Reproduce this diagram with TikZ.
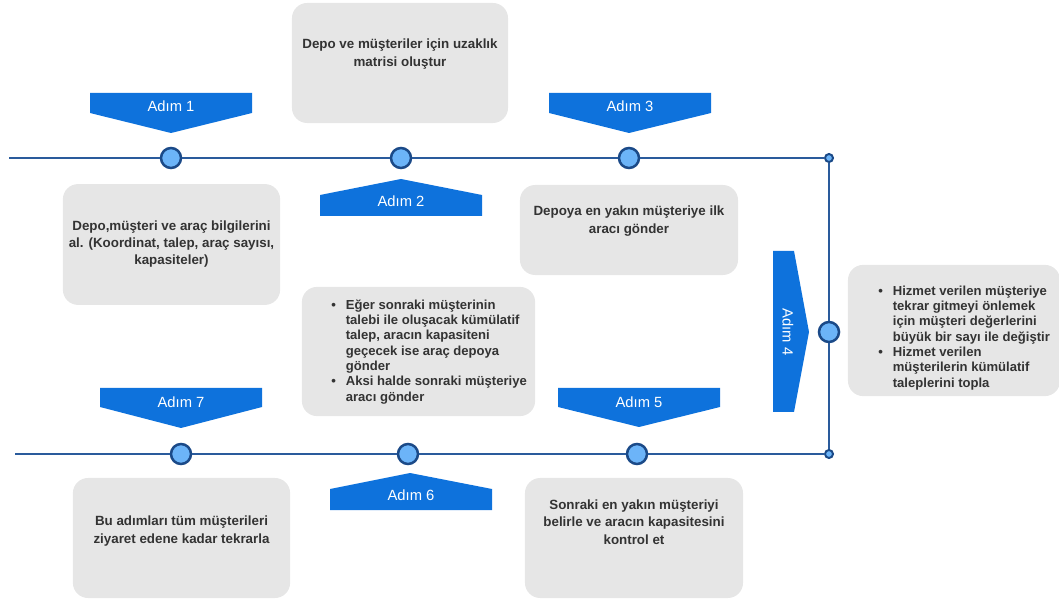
\documentclass[tikz,border=0pt]{standalone}
\usepackage{fontspec}
\setmainfont{Liberation Sans}
\usetikzlibrary{positioning}

\definecolor{stepblue}{HTML}{0E72DC}
\definecolor{linenavy}{HTML}{2A5B9C}
\definecolor{dotfill}{HTML}{6CB4F8}
\definecolor{dotedge}{HTML}{1B4A88}
\definecolor{boxgray}{HTML}{E6E6E6}
\definecolor{txtgray}{HTML}{333333}

\begin{document}
\begin{tikzpicture}[
          x=0.025cm, y=-0.025cm,
          box/.style={rectangle, rounded corners=0.38cm, fill=boxgray, inner sep=0pt},
          boxtext/.style={text=txtgray, align=center, inner sep=0pt,
            font=\fontsize{9.5}{12.3}\selectfont\bfseries},
          listtext/.style={text=txtgray, inner sep=0pt, anchor=west,
            font=\fontsize{9.3}{10.9}\selectfont\bfseries},
          dot/.style={circle, draw=dotedge, fill=dotfill, line width=1.8pt, minimum size=0.5cm, inner sep=0pt},
          enddot/.style={circle, draw=dotedge, fill=dotfill, line width=1.4pt, minimum size=0.2cm, inner sep=0pt},
          timeline/.style={draw=linenavy, line width=1.4pt},
          banner/.style={fill=stepblue},
          steplabel/.style={text=white, font=\fontsize{10.5}{12}\selectfont}
        ]
          \useasboundingbox (0,0) rectangle (1059,602);

          % text boxes
          \node[box, minimum width=5.4cm, minimum height=3cm] (b2) at (400,63) {};
          \node[boxtext] (t2) at (400,54) {Depo ve müşteriler için uzaklık\\matrisi oluştur};
          \node[box, minimum width=5.43cm, minimum height=3.02cm] (b1) at (171.5,244.5) {};
          \node[boxtext] (t1) at (171.5,244)
            {Depo,müşteri ve araç bilgilerini\\al. (Koordinat, talep, araç sayısı,\\kapasiteler)};
          \node[box, minimum width=5.45cm, minimum height=2.25cm] (b3) at (629,230) {};
          \node[boxtext] (t3) at (629,221) {Depoya en yakın müşteriye ilk\\aracı gönder};
          \node[box, minimum width=5.3cm, minimum height=3.28cm] (b4) at (954,330.5) {};
          \node[listtext] (t4) at (878,338)
            {\begin{tabular}{@{}l@{\hspace{0.25cm}}l@{}}
              \textbullet & Hizmet verilen müşteriye\\
                          & tekrar gitmeyi önlemek\\
                          & için müşteri değerlerini\\
                          & büyük bir sayı ile değiştir\\
              \textbullet & Hizmet verilen\\
                          & müşterilerin kümülatif\\
                          & taleplerini topla
            \end{tabular}};
          \node[box, minimum width=5.83cm, minimum height=3.23cm] (b6) at (418.5,351.5) {};
          \node[listtext] (t6) at (331,352)
            {\begin{tabular}{@{}l@{\hspace{0.25cm}}l@{}}
              \textbullet & Eğer sonraki müşterinin\\
                          & talebi ile oluşacak kümülatif\\
                          & talep, aracın kapasiteni\\
                          & geçecek ise araç depoya\\
                          & gönder\\
              \textbullet & Aksi halde sonraki müşteriye\\
                          & aracı gönder
            \end{tabular}};
          \node[box, minimum width=5.43cm, minimum height=3cm] (b7) at (181.5,538) {};
          \node[boxtext] (t7) at (181.5,531) {Bu adımları tüm müşterileri\\ziyaret edene kadar tekrarla};
          \node[box, minimum width=5.45cm, minimum height=3cm] (b5) at (634,538) {};
          \node[boxtext] (t5) at (634,522)
            {Sonraki en yakın müşteriyi\\belirle ve aracın kapasitesini\\kontrol et};

          % dots on the time line
          \node[dot] (c1) at (171,158) {};
          \node[dot] (c2) at (401,158) {};
          \node[dot] (c3) at (629,158) {};
          \node[dot] (c4) at (829,332) {};
          \node[dot] (c5) at (637,454) {};
          \node[dot] (c6) at (408,454) {};
          \node[dot] (c7) at (181,454) {};
          \node[enddot] (e1) at (829,158) {};
          \node[enddot] (e2) at (829,454) {};
          \coordinate (l1) at (9,158);
          \coordinate (l2) at (15,454);

          \draw[timeline] (l1) -- (c1);
          \draw[timeline] (c1) -- (c2);
          \draw[timeline] (c2) -- (c3);
          \draw[timeline] (c3) -- (e1);
          \draw[timeline] (e1) -- (c4);
          \draw[timeline] (c4) -- (e2);
          \draw[timeline] (e2) -- (c5);
          \draw[timeline] (c5) -- (c6);
          \draw[timeline] (c6) -- (c7);
          \draw[timeline] (c7) -- (l2);

          % step banners
          \fill[banner] (90,93) -- (252,93) -- (252,113) -- (171,133) -- (90,113) -- cycle;
          \node[steplabel] (s1) at (171,106) {Adım 1};
          \fill[banner] (320,216) -- (482,216) -- (482,195) -- (401,179) -- (320,195) -- cycle;
          \node[steplabel] (s2) at (401,201) {Adım 2};
          \fill[banner] (549,93) -- (711,93) -- (711,113) -- (629,133) -- (549,113) -- cycle;
          \node[steplabel] (s3) at (630,106) {Adım 3};
          \fill[banner] (773,251) -- (794,251) -- (809,332) -- (794,412) -- (773,412) -- cycle;
          \node[steplabel, rotate=-90] (s4) at (788,332) {Adım 4};
          \fill[banner] (558,388) -- (720,388) -- (720,407) -- (639,427) -- (558,407) -- cycle;
          \node[steplabel] (s5) at (639,402) {Adım 5};
          \fill[banner] (330,510) -- (492,510) -- (492,489) -- (410,473) -- (330,489) -- cycle;
          \node[steplabel] (s6) at (411,495) {Adım 6};
          \fill[banner] (100,388) -- (262,388) -- (262,407) -- (181,428) -- (100,407) -- cycle;
          \node[steplabel] (s7) at (181,402) {Adım 7};
        \end{tikzpicture}
\end{document}
